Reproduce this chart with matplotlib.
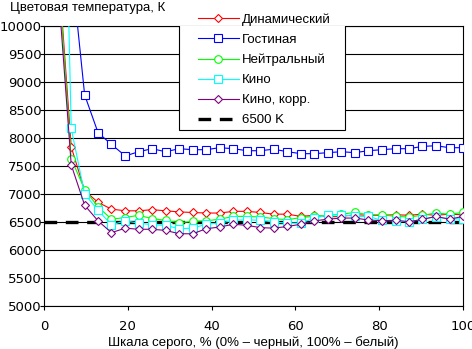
import matplotlib
matplotlib.use("Agg")
import matplotlib.pyplot as plt
from matplotlib.lines import Line2D
from matplotlib.patches import Rectangle

plt.rcParams['font.family'] = ['DejaVu Sans']
TEXT_FONT = ['Liberation Sans', 'DejaVu Sans']

# gray level, % (first point near black is far off the scale)
gray = [3.2, 6.5, 9.7, 12.9, 16.1, 19.4, 22.6, 25.8, 29.0, 32.3, 35.5,
        38.7, 41.9, 45.2, 48.4, 51.6, 54.8, 58.1, 61.3, 64.5, 67.7, 71.0,
        74.2, 77.4, 80.6, 83.9, 87.1, 90.3, 93.5, 96.8, 100.0]

dynamic = [11280, 7840, 7060, 6850, 6730, 6700, 6700, 6720, 6700, 6680, 6670,
           6660, 6660, 6690, 6690, 6670, 6640, 6640, 6600, 6620, 6590, 6600,
           6630, 6620, 6620, 6630, 6620, 6640, 6620, 6640, 6630]
living = [16000, 11100, 8770, 8095, 7885, 7680, 7755, 7809, 7755, 7809, 7791,
          7791, 7827, 7809, 7773, 7773, 7800, 7755, 7720, 7720, 7738, 7755,
          7738, 7773, 7791, 7809, 7809, 7850, 7862, 7827, 7827]
neutral = [11200, 7630, 7080, 6770, 6550, 6580, 6620, 6560, 6530, 6490, 6510,
           6520, 6550, 6600, 6600, 6590, 6560, 6540, 6580, 6600, 6620, 6640,
           6670, 6630, 6630, 6600, 6590, 6620, 6660, 6640, 6670]
cinema = [18900, 8170, 7000, 6710, 6450, 6520, 6480, 6450, 6440, 6380, 6390,
          6460, 6480, 6530, 6540, 6530, 6500, 6480, 6480, 6570, 6620, 6630,
          6600, 6600, 6530, 6520, 6505, 6550, 6595, 6550, 6560]
cinema_corr = [10870, 7520, 6800, 6520, 6310, 6390, 6370, 6370, 6350, 6290,
               6290, 6380, 6410, 6460, 6440, 6400, 6390, 6420, 6460, 6520,
               6550, 6570, 6570, 6536, 6524, 6530, 6506, 6545, 6600, 6550,
               6600]

series = [
    ("Динамический", dynamic, "#ff0000", "D", 4.0),
    ("Гостиная", living, "#0000ff", "s", 5.5),
    ("Нейтральный", neutral, "#00ff00", "o", 5.5),
    ("Кино", cinema, "#00ffff", "s", 5.5),
    ("Кино, корр.", cinema_corr, "#800080", "D", 4.0),
]
ref_x = [0, 100]
ref_y = [6500, 6500]

W, H = 472, 349
fig = plt.figure(figsize=(W / 100, H / 100), dpi=100)
ax = fig.add_axes([44 / W, 43 / H, 419 / W, 280 / H])

ax.plot(ref_x, ref_y, color="black", lw=2.4, ls=(0, (3.8, 2.6)), zorder=2)
handles = []
for name, vals, col, mk, ms in series:
    h, = ax.plot(gray, vals, color=col, lw=0.8, marker=mk, ms=ms,
                 mfc="white", mec=col, mew=0.8, label=name, zorder=3)
    handles.append(h)
handles.append(Line2D([], [], color="black", lw=2.4, ls=(0, (3.8, 2.6)),
                      label="6500 K"))

ax.set_xlim(0, 100)
ax.set_ylim(5000, 10000)
ax.set_xticks(range(0, 101, 20))
ax.set_yticks(range(5000, 10001, 500))
ax.yaxis.grid(True, color="black", lw=0.8)
ax.set_axisbelow(True)
for sp in ax.spines.values():
    sp.set_linewidth(0.8)
ax.tick_params(direction="out", length=3, width=0.8, labelsize=9.5)
ax.tick_params(axis="y", pad=-1.5)
ax.tick_params(axis="x", pad=7)

fig.text(10 / W, 1 - 11 / H, "Цветовая температура, К", fontsize=9.5,
         family=TEXT_FONT, va="baseline", ha="left")
fig.text(253.5 / W, 1 - 346 / H,
         "Шкала серого, % (0% – черный, 100% – белый)", fontsize=9.5,
         family=TEXT_FONT, va="baseline", ha="center")

# legend box
ax.add_patch(Rectangle((179 / W, 1 - 130 / H), 166 / W, 123 / H,
                       transform=fig.transFigure, facecolor="white",
                       edgecolor="black", lw=0.8, zorder=5))
leg = ax.legend(handles=handles, loc="upper left", frameon=False,
                bbox_to_anchor=(198 / W, 1 - 13.5 / H),
                bbox_transform=fig.transFigure,
                prop={'family': TEXT_FONT, 'size': 9.5},
                handlelength=3.1, handletextpad=0.25, borderpad=0,
                borderaxespad=0, labelspacing=0.59)
leg.set_zorder(6)

fig.savefig("out.png", dpi=100)
